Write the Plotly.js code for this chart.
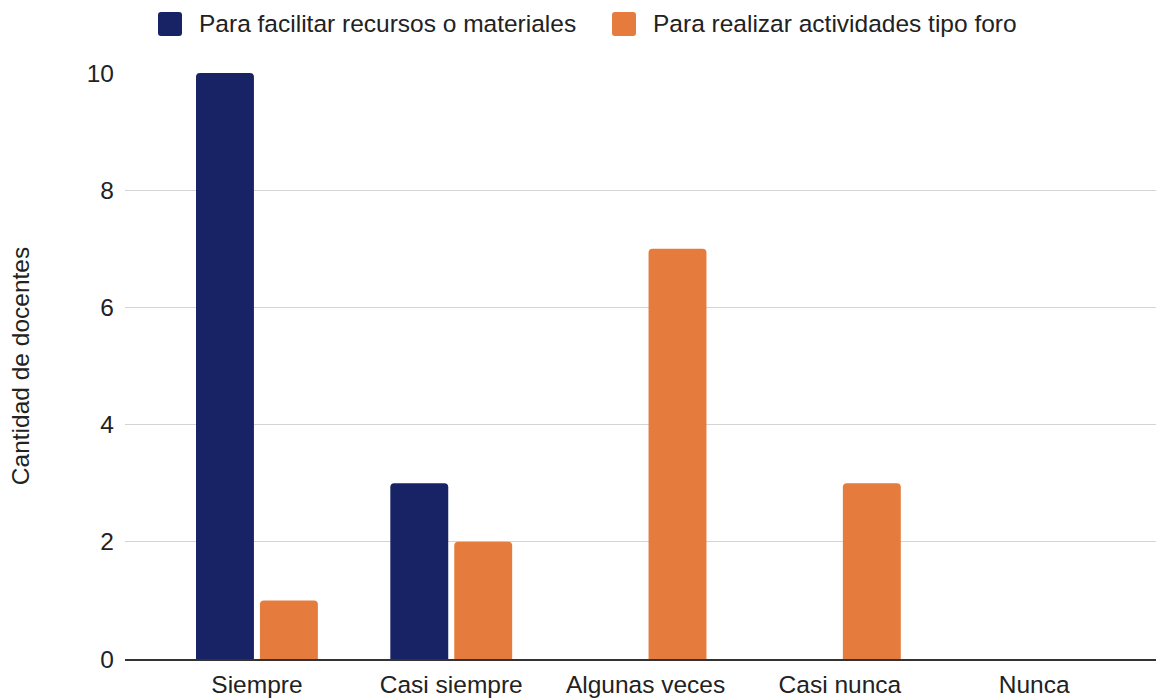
<!DOCTYPE html>
<html>
<head>
<meta charset="utf-8">
<script src="https://cdn.plot.ly/plotly-3.0.1.min.js"></script>
<style>html,body{margin:0;padding:0;background:#fff;}#chart{width:1156px;height:698px;}</style>
</head>
<body>
<div id="chart"></div>
<script>
var categories = ["Siempre", "Casi siempre", "Algunas veces", "Casi nunca", "Nunca"];
var seriesNames = ["Para facilitar recursos o materiales", "Para realizar actividades tipo foro"];
var recursos = [10, 3, 0, 0, 0];
var foro = [1, 2, 7, 3, 0];
var yTicks = [0, 2, 4, 6, 8, 10];
var yTitle = "Cantidad de docentes";
var colors = ["#172364", "#e57b3d"];

var W = 1156, H = 698;
var M = {l: 125, r: 0, t: 73, b: 39};
var pw = W - M.l - M.r, ph = H - M.t - M.b;
function px(x) { return (x - M.l) / pw; }
function py(y) { return (H - M.b - y) / ph; }

// rounded square legend swatch path (in paper coordinates)
function roundRect(x0, y0, w, h, r) {
  var p = function (x, y) { return px(x).toFixed(5) + "," + py(y).toFixed(5); };
  var x1 = x0 + w, y1 = y0 + h;
  return "M" + p(x0 + r, y0) + " L" + p(x1 - r, y0) + " Q" + p(x1, y0) + " " + p(x1, y0 + r) +
    " L" + p(x1, y1 - r) + " Q" + p(x1, y1) + " " + p(x1 - r, y1) +
    " L" + p(x0 + r, y1) + " Q" + p(x0, y1) + " " + p(x0, y1 - r) +
    " L" + p(x0, y0 + r) + " Q" + p(x0, y0) + " " + p(x0 + r, y0) + " Z";
}

var font = "Liberation Sans, Arial, Helvetica, sans-serif";
var fs = 24.5;

var traces = [
  {type: "bar", x: categories, y: recursos, name: seriesNames[0], marker: {color: colors[0], cornerradius: 4}, showlegend: false},
  {type: "bar", x: categories, y: foro, name: seriesNames[1], marker: {color: colors[1], cornerradius: 4}, showlegend: false}
];

// manual legend (large rounded squares like the reference)
var legendX = [158, 612];
var shapes = [], annotations = [];
for (var i = 0; i < seriesNames.length; i++) {
  shapes.push({type: "path", xref: "paper", yref: "paper",
    path: roundRect(legendX[i], 12, 24, 24, 3),
    fillcolor: colors[i], line: {width: 0}});
  annotations.push({xref: "paper", yref: "paper", x: px(legendX[i] + 39), y: py(24),
    xanchor: "left", yanchor: "middle", showarrow: false, text: seriesNames[i],
    font: {family: font, size: fs, color: "#222"}});
}

var layout = {
  width: W, height: H,
  margin: M,
  paper_bgcolor: "#fff", plot_bgcolor: "#fff",
  font: {family: font, size: fs, color: "#222"},
  barmode: "group",
  bargap: 0.342,
  bargroupgap: 0.094,
  showlegend: false,
  xaxis: {
    type: "category",
    range: [-0.679, 4.627],
    showgrid: false, zeroline: false,
    showline: true, linecolor: "#333", linewidth: 1.5,
    ticks: "", tickfont: {family: font, size: fs, color: "#222"},
    ticklabelstandoff: 3,
    fixedrange: true
  },
  yaxis: {
    range: [0, 10],
    tickvals: yTicks,
    ticktext: yTicks.map(String),
    showgrid: true, gridcolor: "#d4d4d4", gridwidth: 1,
    zeroline: false, showline: false,
    ticks: "", tickfont: {family: font, size: fs, color: "#222"},
    ticklabelstandoff: 10,
    title: {text: yTitle, font: {family: font, size: fs, color: "#222"}, standoff: 50},
    fixedrange: true
  },
  shapes: shapes,
  annotations: annotations
};

Plotly.newPlot("chart", traces, layout, {displayModeBar: false, staticPlot: true});
</script>
</body>
</html>
